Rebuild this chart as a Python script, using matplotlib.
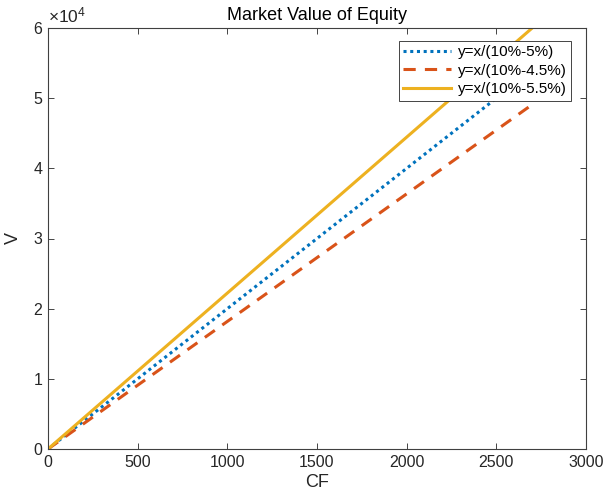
import matplotlib
matplotlib.use("Agg")
import matplotlib.pyplot as plt

plt.rcParams['font.family'] = ['Liberation Sans', 'DejaVu Sans']
plt.rcParams['mathtext.fontset'] = 'custom'
plt.rcParams['mathtext.rm'] = 'Liberation Sans'
plt.rcParams['mathtext.it'] = 'Liberation Sans'

cf = [0, 2700]
v_5 = [0, 54000]
v_45 = [0, 49091]
v_55 = [0, 60000]
labels = ['y=x/(10%-5%)', 'y=x/(10%-4.5%)', 'y=x/(10%-5.5%)']

fig = plt.figure(figsize=(6.03, 5.01), dpi=100)
ax = fig.add_axes([48 / 603, 1 - 449 / 501, 538 / 603, 421 / 501])

ax.plot(cf, v_5, color='#0072BD', linestyle=(0, (1, 1.2)), linewidth=2.2, label=labels[0])
ax.plot(cf, v_45, color='#D95319', linestyle=(0, (4, 3)), linewidth=2.2, label=labels[1])
ax.plot(cf, v_55, color='#EDB120', linestyle='-', linewidth=2.2, label=labels[2])

ax.set_xlim(0, 3000)
ax.set_ylim(0, 60000)
ax.set_xticks([0, 500, 1000, 1500, 2000, 2500, 3000])
ax.set_yticks([0, 10000, 20000, 30000, 40000, 50000, 60000])
ax.set_yticklabels(['0', '1', '2', '3', '4', '5', '6'])
ax.tick_params(direction='in', labelsize=11.5, colors='#262626', length=4, width=0.6,
               top=True, right=True, pad=4)
for s in ax.spines.values():
    s.set_color('#404040')
    s.set_linewidth(0.8)

ax.text(0.0, 1.005, r'$\times\mathrm{10}^{4}$', transform=ax.transAxes, fontsize=12.5,
        color='#262626', ha='left', va='bottom')

ax.set_xlabel('CF', fontsize=13, color='#262626', labelpad=3)
ax.set_ylabel('V', fontsize=13, color='#262626', labelpad=8)
ax.set_title('Market Value of Equity', fontsize=13, color='black', pad=6)

leg = ax.legend(loc='upper right', bbox_to_anchor=((571 - 48) / 538, (449 - 40.5) / 421),
                fontsize=11, frameon=True, fancybox=False, edgecolor='#262626', framealpha=1,
                handlelength=3.1, borderpad=0.3, labelspacing=0.3, handletextpad=0.45,
                borderaxespad=0)
leg.get_frame().set_linewidth(0.6)

fig.savefig('out.png', dpi=100)
